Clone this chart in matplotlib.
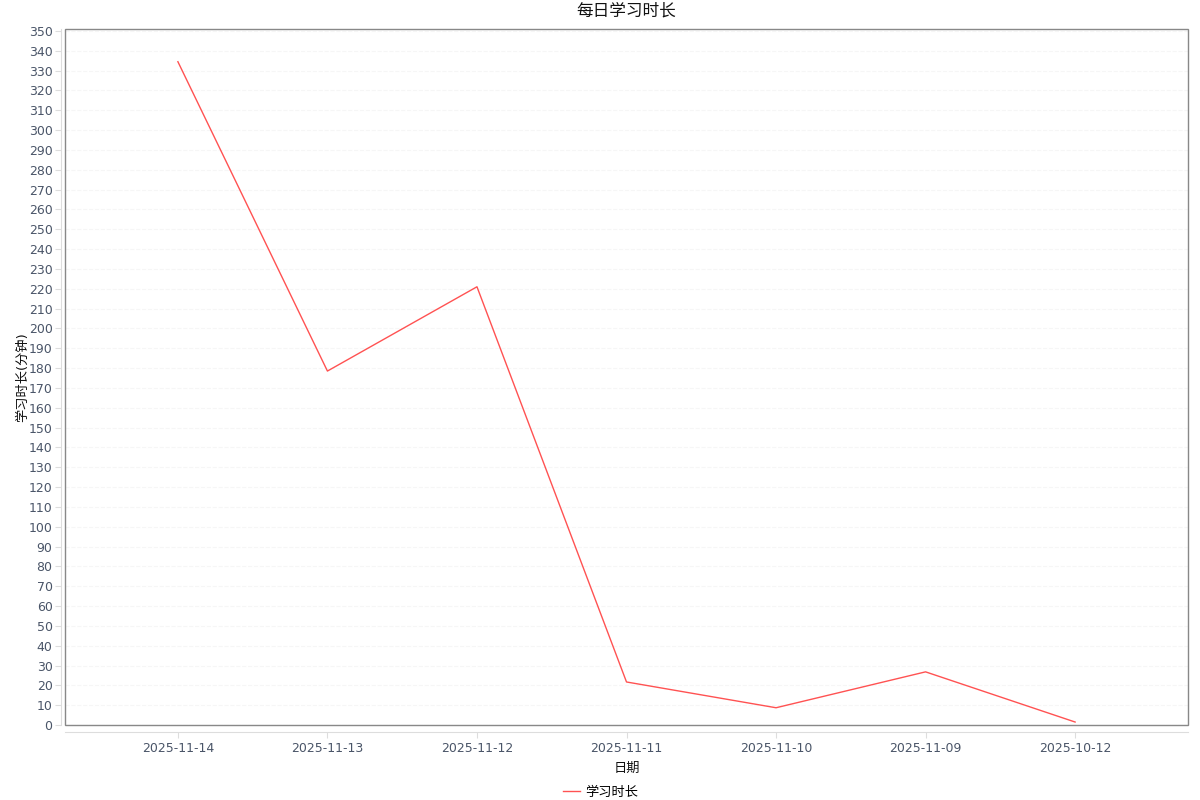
import matplotlib.pyplot as plt
import matplotlib.patches as patches

plt.rcParams['font.family'] = ['DejaVu Sans', 'Noto Sans CJK SC']

dates = ["2025-11-14", "2025-11-13", "2025-11-12", "2025-11-11",
         "2025-11-10", "2025-11-09", "2025-10-12"]
values = [334.5, 178.5, 221, 21.7, 8.7, 26.8, 1.5]

title = "每日学习时长"
x_label = "日期"
y_label = "学习时长(分钟)"
series_name = "学习时长"

text_color = "#4a5568"
axis_gray = "#dddddd"

fig = plt.figure(figsize=(12, 8), dpi=100)
ax = fig.add_axes([65 / 1200, 75 / 800, 1123 / 1200, 696 / 800])

x = list(range(len(dates)))
ax.plot(x, values, color="#ff5252", linewidth=1, label=series_name)

ax.set_xlim(-0.755, len(dates) - 1 + 0.755)
ax.set_ylim(0, 351)
ax.set_xticks(x)
ax.set_xticklabels(dates)
ax.set_yticks(range(0, 351, 10))

# leichte horizontale Hilfslinien
ax.yaxis.grid(True, color="#f6f6f6", linestyle="--", linewidth=0.8)
ax.set_axisbelow(True)

# Achsenlinien nach aussen versetzt, Rahmen extra
for s in ["top", "right"]:
    ax.spines[s].set_visible(False)
ax.spines["left"].set_position(("outward", 3))
ax.spines["bottom"].set_position(("outward", 5))
ax.spines["left"].set_color(axis_gray)
ax.spines["bottom"].set_color(axis_gray)
ax.add_patch(patches.Rectangle((0, 0), 1, 1, transform=ax.transAxes, fill=False,
                               edgecolor="#888888", linewidth=1, clip_on=False, zorder=5))

ax.tick_params(axis="both", colors=axis_gray, labelcolor=text_color, labelsize=9, length=4)
ax.tick_params(axis="y", pad=2)

ax.set_title(title, fontsize=12, color="#111111", pad=10)
ax.set_xlabel(x_label, fontsize=9.5, color="#111111", labelpad=5)
ax.set_ylabel(y_label, fontsize=9.5, color="#111111", labelpad=0)

ax.legend(loc="upper center", bbox_to_anchor=(0.477, -0.07), frameon=False,
          fontsize=9.5, handlelength=1.3, handletextpad=0.4)

fig.savefig("out.png", dpi=100)
